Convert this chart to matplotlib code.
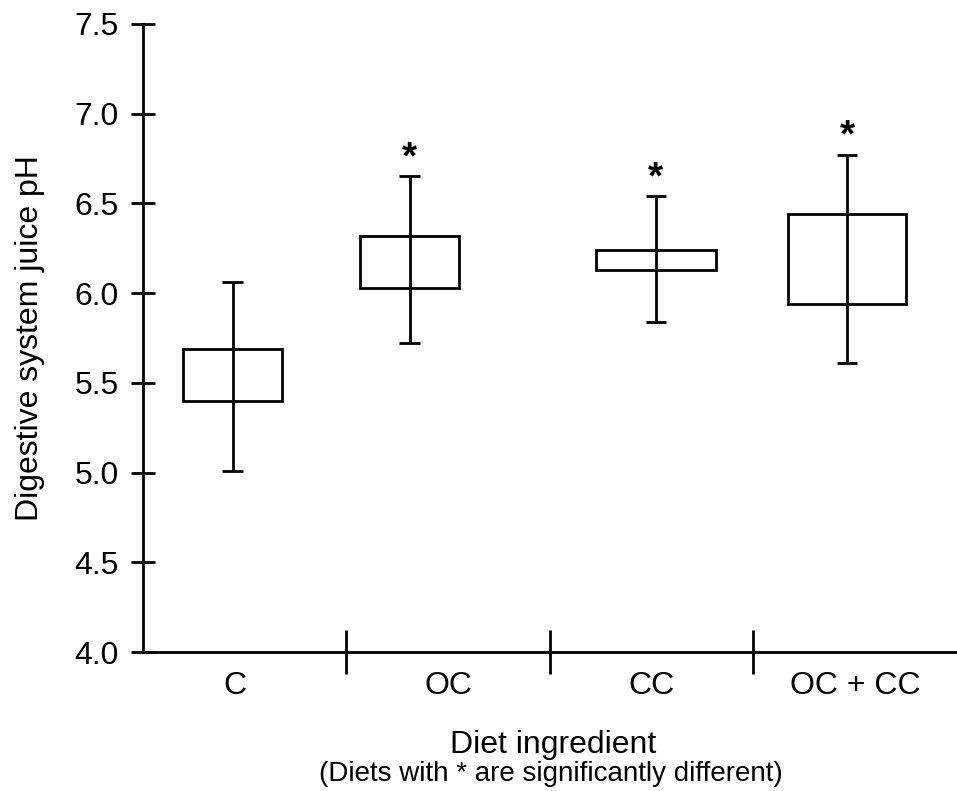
import matplotlib.pyplot as plt

plt.rcParams['font.family'] = ['Liberation Sans', 'DejaVu Sans']

# data
diets = ["C", "OC", "CC", "OC + CC"]
box_low = [5.40, 6.03, 6.13, 5.94]
box_high = [5.69, 6.32, 6.24, 6.44]
whisker_low = [5.01, 5.72, 5.84, 5.61]
whisker_high = [6.06, 6.65, 6.54, 6.77]
significant = [False, True, True, True]

# layout (x in category units, dividers at 1, 2, 3)
box_pos = [0.44, 1.31, 2.52, 3.46]
box_width = [0.49, 0.49, 0.59, 0.58]
label_pos = [0.45, 1.5, 2.5, 3.5]

fig = plt.figure(figsize=(9.57, 7.91), dpi=100)
ax = fig.add_axes([0.1494, 0.1757, 0.8506, 0.7940])

lw = 2.0
heights = [h - l for h, l in zip(box_high, box_low)]
ax.bar(box_pos, heights, width=box_width, bottom=box_low,
       facecolor="white", edgecolor="black", linewidth=lw, zorder=2)

# whiskers run through the box
ax.vlines(box_pos, whisker_low, whisker_high, color="black", linewidth=lw, zorder=3)
cap = 0.05
for x, lo, hi in zip(box_pos, whisker_low, whisker_high):
    ax.hlines([lo, hi], x - cap, x + cap, color="black", linewidth=lw, zorder=3)

for x, hi, sig in zip(box_pos, whisker_high, significant):
    if sig:
        ax.annotate("*", (x, hi), xytext=(0, 0), textcoords="offset points",
                    ha="center", va="bottom", fontsize=28, fontweight="bold")

ax.set_xlim(0, 4)
ax.set_ylim(4.0, 7.5)
yt = [4.0, 4.5, 5.0, 5.5, 6.0, 6.5, 7.0, 7.5]
ax.set_yticks(yt)
ax.set_yticklabels([f"{v:.1f}" for v in yt])
ax.tick_params(axis="y", direction="inout", length=17, width=lw,
               labelsize=23, pad=9)

ax.set_xticks([1, 2, 3])
ax.set_xticklabels([])
ax.tick_params(axis="x", which="major", direction="inout", length=32, width=lw)
ax.set_xticks(label_pos, minor=True)
ax.set_xticklabels(diets, minor=True)
ax.tick_params(axis="x", which="minor", length=0, labelsize=23, pad=14)

for s in ["top", "right"]:
    ax.spines[s].set_visible(False)
for s in ["left", "bottom"]:
    ax.spines[s].set_linewidth(lw)

ax.set_ylabel("Digestive system juice pH", fontsize=23, labelpad=21)
ax.set_xlabel("Diet ingredient", fontsize=23, va="baseline")
ax.xaxis.set_label_coords(0.504, -0.161)
fig.text(0.5758, 1 - 781 / 791, "(Diets with * are significantly different)",
         ha="center", va="baseline", fontsize=20)

fig.savefig("out.png", dpi=100)
